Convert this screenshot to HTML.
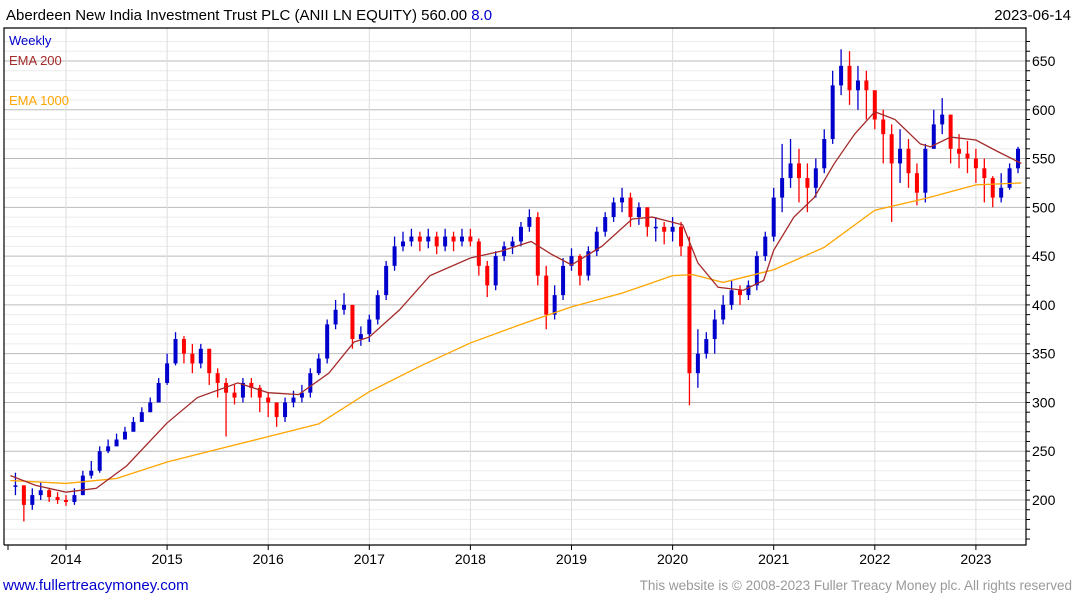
<!DOCTYPE html>
<html><head><meta charset="utf-8">
<style>
body{margin:0;background:#fff;width:1075px;height:600px;overflow:hidden;font-family:"Liberation Sans",sans-serif;}
svg{display:block}
</style></head>
<body>
<svg id="chart" width="1075" height="600" xmlns="http://www.w3.org/2000/svg">
<text x="6" y="20" font-size="15" fill="#000">Aberdeen New India Investment Trust PLC (ANII LN EQUITY) 560.00 <tspan fill="#0000cc">8.0</tspan></text>
<text x="1071" y="20" font-size="15" fill="#000" text-anchor="end">2023-06-14</text>
<g id="grid"></g>
<g id="marks"></g>
<g id="lines"></g>
<g id="axes"></g>
<text x="9" y="45" font-size="13" fill="#0000cc">Weekly</text>
<text x="9" y="65" font-size="13" fill="#a52a2a">EMA 200</text>
<text x="9" y="105" font-size="13" fill="#ffa500">EMA 1000</text>
<text x="3" y="590" font-size="15" fill="#0000cc">www.fullertreacymoney.com</text>
<text x="1072" y="590" font-size="13.5" fill="#999" text-anchor="end">This website is © 2008-2023 Fuller Treacy Money plc. All rights reserved</text>
</svg>
<script>
const closes=[215,195,205,210,203,200,
198,205,225,230,250,255,262,270,280,290,300,320,
340,365,350,340,355,330,320,310,305,320,315,305,
300,285,300,305,310,330,345,380,395,400,365,370,
385,410,440,460,465,470,465,470,460,470,465,470,
465,440,420,450,460,465,480,490,430,390,410,440,
450,430,455,475,490,505,510,490,500,480,480,475,
480,460,330,350,365,385,400,415,410,420,450,470,
510,530,545,530,520,540,570,625,645,620,630,620,
590,575,545,560,535,515,560,585,595,560,555,550,
540,530,510,520,540,560];
const highs=[228,215,212,218,212,208,
205,212,230,240,255,262,268,275,285,295,305,325,
350,372,368,360,360,355,335,325,318,325,325,318,
310,300,305,312,318,335,350,385,405,412,400,378,
390,415,445,470,475,478,475,478,475,478,475,478,
478,468,445,455,465,470,485,498,495,440,420,448,
458,452,460,480,495,510,520,515,505,500,490,485,
490,485,470,375,372,395,410,425,420,425,455,475,
520,565,570,560,545,550,580,640,662,660,645,640,
610,600,585,580,570,545,565,600,612,595,575,568,
560,550,532,535,545,562];
const lows=[205,178,190,200,198,196,
194,195,205,222,228,248,255,262,270,282,290,300,
318,338,340,330,335,318,305,265,298,300,305,290,
285,275,280,295,300,305,328,340,375,390,355,358,
362,380,405,435,455,460,455,458,452,455,455,460,
460,430,408,415,445,452,460,475,420,375,385,405,
435,420,425,450,470,485,495,480,482,470,465,462,
465,450,297,315,345,350,380,395,400,405,415,445,
465,495,520,505,495,510,535,565,615,605,600,590,
580,545,485,525,520,502,505,560,575,545,540,535,
525,505,500,505,518,535];
const emaDates=[2013.45,2013.7,2014.0,2014.3,2014.6,2015.0,2015.3,2015.7,2016.0,2016.3,2016.6,2016.85,2017.0,2017.3,2017.6,2018.0,2018.3,2018.6,2018.8,2019.0,2019.3,2019.6,2019.8,2020.1,2020.25,2020.45,2020.7,2020.9,2021.0,2021.2,2021.4,2021.6,2021.8,2022.0,2022.2,2022.45,2022.55,2022.75,2023.0,2023.2,2023.45];
const ema200=[225,215,208,212,235,279,305,320,310,308,330,362,367,395,430,448,455,465,452,441,460,488,490,482,443,418,415,425,456,490,510,545,575,598,590,565,562,572,569,558,545];
const ema1000Dates=[2013.45,2014.0,2014.5,2015.0,2015.5,2016.0,2016.5,2017.0,2017.5,2018.0,2018.5,2019.0,2019.5,2020.0,2020.2,2020.5,2021.0,2021.5,2022.0,2022.5,2023.0,2023.45];
const ema1000=[220,217,222,239,252,265,278,311,337,361,380,398,412,430,431,423,436,459,497,509,523,525];
const yTicks=[200,250,300,350,400,450,500,550,600,650];
const xYears=[2014,2015,2016,2017,2018,2019,2020,2021,2022,2023];

const NS='http://www.w3.org/2000/svg';
const L=4,R=1026,T=28,B=545;
const X=t=>66+(t-2014)*101.1;
const Y=v=>500-(v-200)*0.9756;
function mk(tag,attrs,parent){const e=document.createElementNS(NS,tag);for(const k in attrs)e.setAttribute(k,attrs[k]);parent.appendChild(e);return e;}
const grid=document.getElementById('grid'),marks=document.getElementById('marks'),lines=document.getElementById('lines'),axes=document.getElementById('axes');
for(let v=160;v<=670;v+=10){const y=Y(v);if(y<T||y>B)continue;
 const l=mk('line',{x1:L,x2:R,y1:y,y2:y,stroke:v%50===0?'#bbb':'#ebebeb','stroke-width':1},grid);
 
 const tk=mk('line',{x1:R,x2:R+4,y1:y,y2:y,stroke:'#000','stroke-width':1},axes);
 }
xYears.forEach(yr=>{const x=X(yr);
 const l=mk('line',{x1:x,x2:x,y1:T,y2:B,stroke:'#ddd','stroke-width':1},grid);
 
 const tk=mk('line',{x1:x,x2:x,y1:B,y2:B+5,stroke:'#000','stroke-width':1},axes);
 
 const tx=mk('text',{x:x,y:B+19,'font-size':14,'text-anchor':'middle',fill:'#000'},axes);tx.textContent=yr;
 });
yTicks.forEach(v=>{const tx=mk('text',{x:1032,y:Y(v)+5,'font-size':14,fill:'#000'},axes);tx.textContent=v;
 });
const fr=mk('path',{d:`M${L},${B}V${T}H${R}V${B}H${L}`,fill:'none',stroke:'#000','stroke-width':1.2},axes);

const st=mk('line',{x1:8,x2:8,y1:B,y2:B+5,stroke:'#000'},axes);

closes.forEach((c,i)=>{const t=2013.5+i/12;const x=X(t);const o=i>0?closes[i-1]:c;
 const col=c>=o?'#0000cc':'#ff0000';
 const w=mk('line',{x1:x,x2:x,y1:Y(highs[i]),y2:Y(lows[i]),stroke:col,'stroke-width':1.3},marks);
 
 const top=Y(Math.max(o,c)),bot=Y(Math.min(o,c));
 const r=mk('rect',{x:x-2,y:top,width:4,height:Math.max(1.5,bot-top),fill:col},marks);
 });
function poly(d,v,col,name){const p=mk('polyline',{points:d.map((t,i)=>X(t)+','+Y(v[i])).join(' '),fill:'none',stroke:col,'stroke-width':1.3},lines);
 }
poly(ema1000Dates,ema1000,'#ffa500','ema-1000-line');
poly(emaDates,ema200,'#a52a2a','ema-200-line');
</script>
</body></html>
